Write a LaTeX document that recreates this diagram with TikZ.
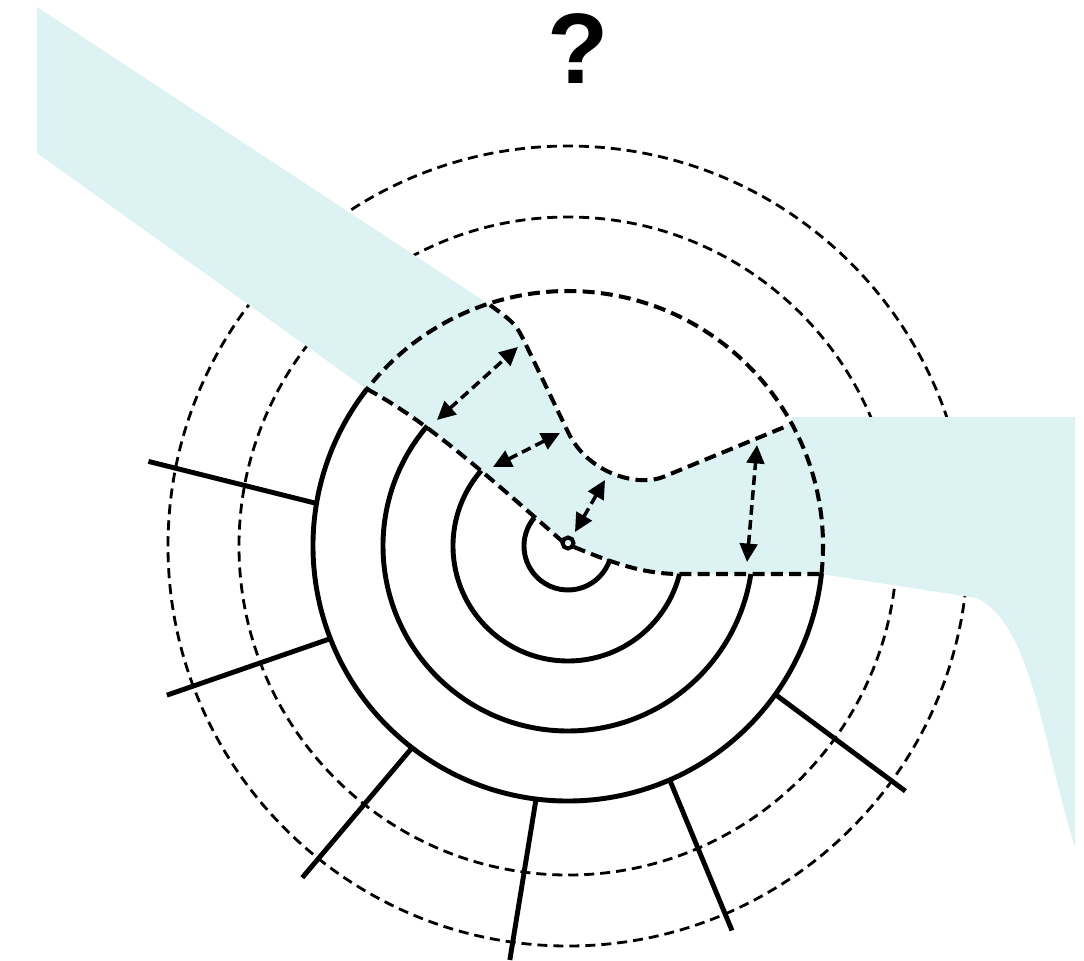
\documentclass[tikz,border=0pt]{standalone}
\usepackage{fontspec}
\setmainfont{Liberation Sans}
\usetikzlibrary{arrows.meta}
\definecolor{seafoam}{RGB}{221,242,242}
\tikzset{
  ring/.style={line width=2.8pt},
  rim/.style={line width=1.6pt, dash pattern=on 5.7pt off 3.4pt},
  border/.style={line width=2.3pt, dash pattern=on 6.8pt off 3.6pt},
  gap/.style={line width=2pt, dash pattern=on 5.5pt off 3pt,
    {Triangle[length=10.5pt,width=10pt]}-{Triangle[length=10.5pt,width=10pt]}}
}

\begin{document}
\begin{tikzpicture}[scale=0.02]
    \useasboundingbox (-568,-414) rectangle (516,546);

    % Outer dashed rings
    \foreach \r in {329,400}
        \draw[rim] (0,0) circle (\r);

    % Shaded flow region
    \fill[seafoam] (-531,539) -- (-78,241) .. controls (-52,222) .. (-40,197)
        -- (0,114) .. controls (20,72) and (70,59) .. (95,69) -- (219,120)
        -- (224,129) -- (507,129) -- (507,-301)
        .. controls (475,-200) and (465,-80) .. (409,-52) -- (253,-28)
        -- (112,-28) .. controls (75,-28) and (45,-17) .. (6,-1) -- (-5,4)
        .. controls (-100,88) and (-150,130) .. (-203,158) -- (-531,393) -- cycle;

    % Dashed part of the outer wall
    \draw[border] (-6.3:255) arc[start angle=-6.3, end angle=142, radius=255];

    % Solid walls
    \draw[ring] (142:255) arc[start angle=142, end angle=353.7, radius=255];
    \draw[ring] (139.5:185) arc[start angle=139.5, end angle=351.3, radius=185];
    \draw[ring] (139:115) arc[start angle=139, end angle=345.9, radius=115];
    \draw[ring] (140:44) arc[start angle=140, end angle=342, radius=44];

    % Region boundaries
    \draw[border] (-78,241) .. controls (-52,222) .. (-40,197) -- (0,114)
        .. controls (20,72) and (70,59) .. (95,69) -- (219,120);
    \draw[border] (-5,4) .. controls (-100,88) and (-150,130) .. (-203,158);
    \draw[border] (6,-1) .. controls (45,-17) and (75,-28) .. (112,-28) -- (253,-28);

    % Spokes
    \foreach \a/\b/\r in {170.4/168.6/428, 201.3/200.4/428, 232.3/231.3/425,
                          262.8/262.0/418, 293.5/293.1/418, 324.4/324.0/417}
        \draw[ring] (\a:255) -- (\b:\r);

    % Centre
    \draw[line width=2.3pt] (0,3) circle (5.5);

    % Clearances
    \coordinate (gapA1) at (-131,126); \coordinate (gapA2) at (-50,199);
    \coordinate (gapB1) at (-75,79);   \coordinate (gapB2) at (-8,113);
    \coordinate (gapC1) at (7,14);     \coordinate (gapC2) at (37,66);
    \coordinate (gapD1) at (179,-16);  \coordinate (gapD2) at (189,101);
    \foreach \g in {A,B,C,D}
        \draw[gap] (gap\g1) -- (gap\g2);

    \node[font=\fontsize{57}{60}\selectfont\bfseries] (query) at (10,497) {?};
\end{tikzpicture}
\end{document}
